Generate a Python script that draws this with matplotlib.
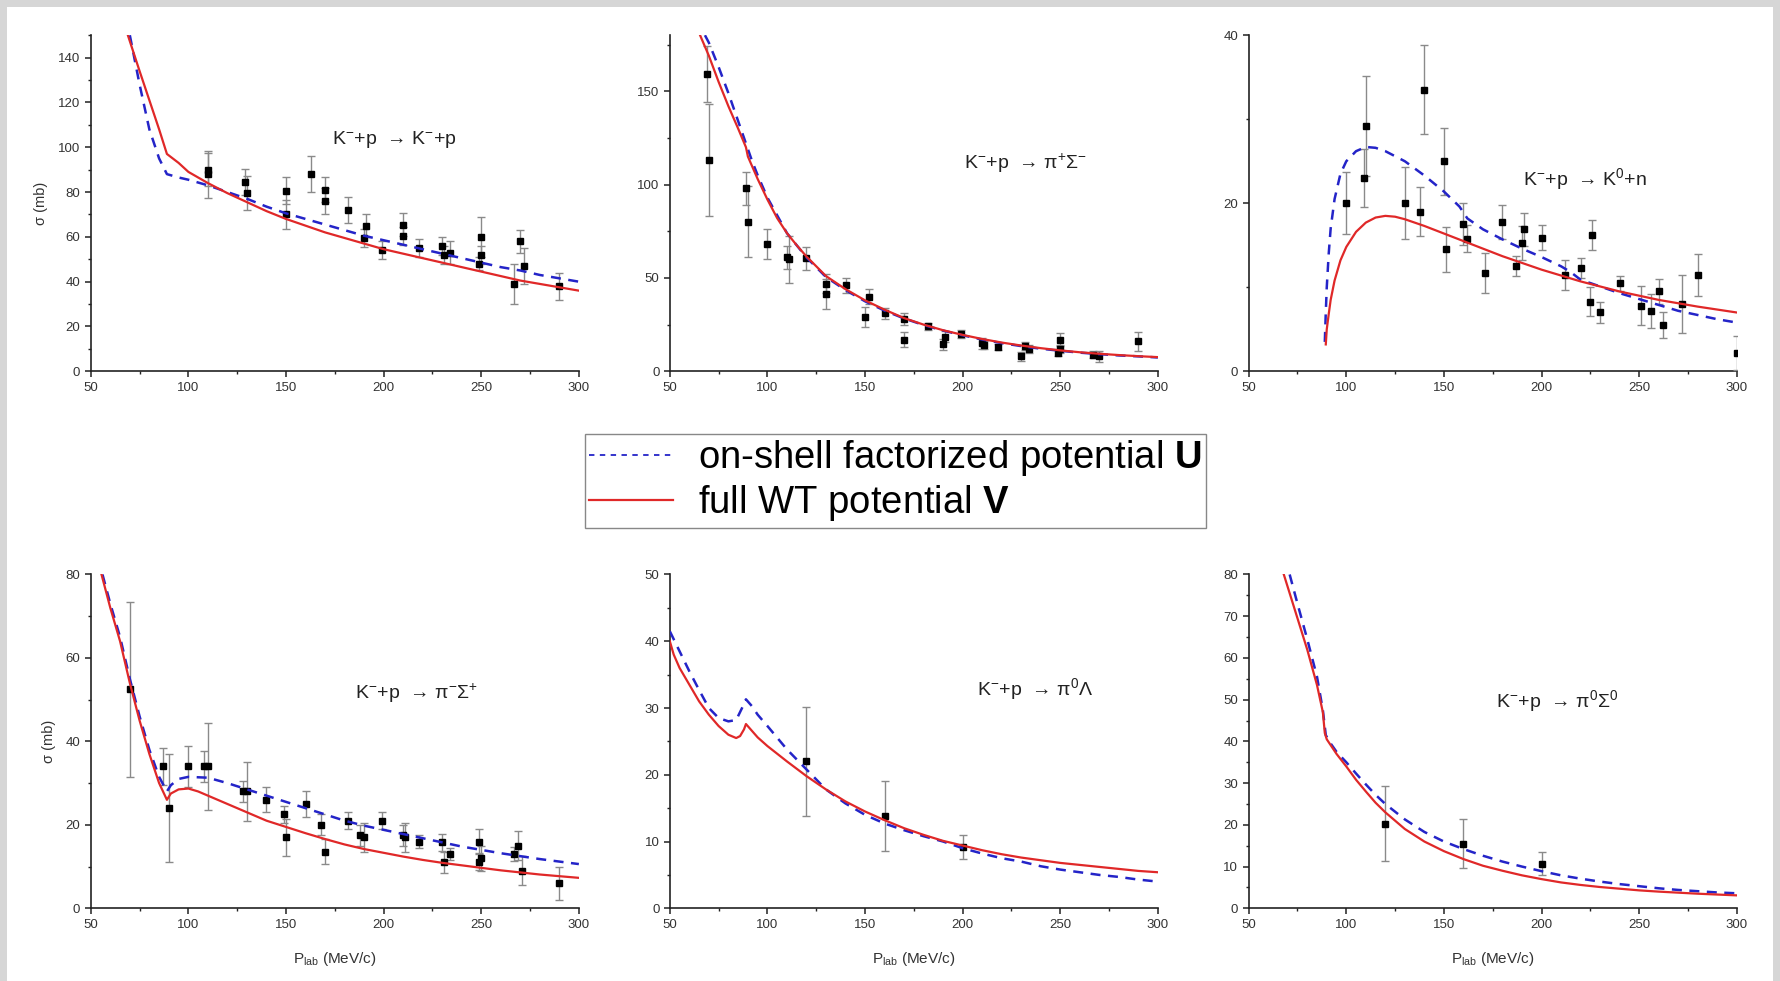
"""
K- p cross sections: on-shell factorized vs full WT potential, six channels.
"""
import matplotlib
matplotlib.use("Agg")
import matplotlib.pyplot as plt
import matplotlib.lines as mlines
from matplotlib.patches import Rectangle
from matplotlib.ticker import MultipleLocator

plt.rcParams["font.family"] = ["Liberation Sans", "DejaVu Sans"]
plt.rcParams["mathtext.fontset"] = "custom"
plt.rcParams["mathtext.rm"] = "Liberation Sans"
plt.rcParams["mathtext.it"] = "Liberation Sans:italic"
plt.rcParams["mathtext.bf"] = "Liberation Sans:bold"

BLUE = "#2424c8"
RED = "#e02828"

# -- K- p -> K- p ---------------------------------------------------------------
kp_red_x = [69, 75, 80, 85, 89, 95, 100, 110, 120, 130, 140, 150, 160, 170, 180, 190,
            200, 210, 220, 230, 240, 250, 260, 270, 280, 290, 300]
kp_red_y = [150, 134, 121, 108, 97, 93, 89, 84, 79.5, 75.5, 71.5, 68, 65, 62, 59.5, 57,
            54.5, 52.5, 50.5, 48.5, 46.5, 44.5, 42.5, 40.5, 39, 37.5, 36]
kp_blue_x = [70, 75, 80, 85, 89, 95, 100, 110, 120, 130, 140, 150, 160, 170, 180, 190,
             200, 210, 220, 230, 240, 250, 260, 270, 280, 290, 300]
kp_blue_y = [150, 128, 108, 95, 88, 86.5, 85.5, 83, 80, 77, 73.5, 70.5, 68, 65.5, 63, 60.5,
             58.5, 56.5, 54.5, 52.5, 50.5, 48.5, 46.5, 45, 43, 41.5, 40]
kp_dat_x = [110, 110, 129, 130, 150, 150, 163, 170, 170, 182, 190, 191, 199, 210, 210, 218,
            230, 231, 234, 249, 250, 250, 267, 270, 272, 290]
kp_dat_y = [90, 88, 84.5, 79.5, 80.5, 70, 88, 81, 76, 72, 59.5, 65, 54, 65.5, 60.5, 55,
            56, 52, 53, 48, 52, 60, 39, 58, 47, 38]
kp_dat_e = [7.5, 10.5, 6, 7.5, 6, 6.5, 8, 5.5, 6, 6, 4, 5, 4, 5, 4, 4,
            4, 4, 5, 3, 4, 9, 9, 5, 8, 6]

# -- K- p -> pi+ Sigma- -----------------------------------------------------------
ps_red_x = [65.5, 70, 75, 80, 85, 89, 90, 95, 100, 105, 110, 115, 120, 130, 140, 150, 160,
            170, 180, 190, 200, 210, 220, 230, 240, 250, 260, 270, 280, 290, 300]
ps_red_y = [180, 169, 155, 142, 130, 120, 115, 103, 92, 82, 74, 67.5, 61.5, 51, 44, 38, 33,
            28.5, 25, 22, 19.5, 17.3, 15.4, 13.8, 12.4, 11.2, 10.2, 9.4, 8.7, 8.1, 7.6]
ps_blue_x = [68, 70, 75, 80, 85, 89, 92, 95, 100, 110, 120, 130, 140, 150, 160, 170, 180,
             190, 200, 210, 220, 230, 240, 250, 260, 270, 280, 290, 300]
ps_blue_y = [180, 176, 163, 149, 134, 122, 113, 105, 93, 74, 61, 50.5, 43.5, 37.5, 32.5,
             28.3, 24.8, 21.8, 19.3, 17, 15.1, 13.5, 12.1, 11, 10, 9.2, 8.5, 8, 7.4]
ps_dat_x = [69, 70, 89, 90, 100, 110, 111, 120, 130, 130, 140, 150, 152, 160, 170, 170, 182,
            190, 191, 199, 210, 211, 218, 230, 232, 234, 249, 250, 250, 267, 270, 290]
ps_dat_y = [159, 113, 98, 80, 68, 61, 60, 60.5, 47, 41.5, 46, 29, 40, 31, 28, 17, 24,
            14.5, 18.5, 20, 15, 14, 13, 8, 13.5, 12, 10, 17, 12, 9, 8, 16]
ps_dat_e = [15, 30, 9, 19, 8, 6, 12.5, 6, 5, 8, 4, 5.5, 4, 3, 3, 4, 2,
            3, 3, 2, 3, 2, 1.5, 2.5, 2, 2, 2, 3.5, 2, 2, 3, 5]

# -- K- p -> K0 n -----------------------------------------------------------------
kn_red_x = [89.5, 90, 91, 92, 94, 97, 100, 105, 110, 115, 120, 125, 130, 140, 150, 160,
            170, 180, 190, 200, 210, 220, 230, 240, 250, 260, 270, 280, 290, 300]
kn_red_y = [3.2, 5, 6.8, 8.5, 10.8, 13.2, 14.8, 16.6, 17.7, 18.3, 18.5, 18.4, 18.1, 17.3,
            16.4, 15.5, 14.6, 13.7, 12.9, 12.1, 11.4, 10.7, 10.1, 9.5, 9.0, 8.5, 8.1, 7.7,
            7.35, 7.0]
kn_blue_x = [89, 89.5, 90, 91, 92, 94, 97, 100, 105, 110, 115, 120, 130, 140, 150, 158, 162,
             170, 180, 190, 200, 210, 215, 220, 230, 240, 250, 260, 270, 280, 290, 300]
kn_blue_y = [3.5, 7, 10, 14, 17, 20.5, 23.5, 25, 26.2, 26.7, 26.6, 26.2, 25, 23.3, 21.4,
             19.6, 18.2, 16.9, 15.7, 14.6, 13.6, 12.5, 11.8, 10.9, 10.1, 9.3, 8.6, 7.9, 7.2,
             6.7, 6.2, 5.8]
kn_dat_x = [100, 109, 110, 130, 138, 140, 150, 151, 160, 162, 171, 180, 187, 190, 191, 200,
            212, 220, 225, 226, 230, 240, 251, 256, 260, 262, 272, 280, 300]
kn_dat_y = [20, 23, 29.2, 20, 19, 33.5, 25, 14.5, 17.5, 15.8, 11.7, 17.8, 12.5, 15.3, 16.9,
            15.9, 11.5, 12.3, 8.3, 16.2, 7, 10.5, 7.8, 7.2, 9.5, 5.5, 8, 11.5, 2.2]
kn_dat_e = [3.7, 3.5, 6, 4.3, 2.9, 5.3, 4, 2.7, 2.5, 1.6, 2.4, 2, 1.2, 2, 2, 1.5,
            1.8, 1.2, 1.7, 1.8, 1.3, 0.9, 2.3, 2, 1.5, 1.5, 3.5, 2.5, 2]

# -- K- p -> pi- Sigma+ -----------------------------------------------------------
ms_red_x = [55.5, 60, 65, 70, 75, 80, 85, 89, 91, 95, 100, 105, 110, 120, 130, 140, 150,
            160, 170, 180, 190, 200, 210, 220, 230, 240, 250, 260, 270, 280, 290, 300]
ms_red_y = [80, 72, 64, 54, 45, 37, 30, 26, 27.5, 28.5, 28.7, 28, 27, 25, 23, 21, 19.5,
            18, 16.6, 15.3, 14.2, 13.3, 12.4, 11.6, 10.9, 10.3, 9.7, 9.1, 8.6, 8.1, 7.7, 7.3]
ms_blue_x = [56, 60, 65, 70, 75, 80, 85, 89, 91, 95, 100, 110, 120, 130, 140, 150, 160, 170,
             180, 190, 200, 210, 220, 230, 240, 250, 260, 270, 280, 290, 300]
ms_blue_y = [80, 73, 65, 55, 46, 38, 31.5, 28, 29.5, 31, 31.5, 31.3, 30, 28.5, 27, 25.5, 24,
             22.5, 21, 19.8, 18.8, 17.8, 16.8, 15.8, 14.8, 14, 13.2, 12.5, 11.8, 11.2, 10.6]
ms_dat_x = [70, 87, 90, 100, 108, 110, 128, 130, 140, 149, 150, 160, 168, 170, 182, 188,
            190, 199, 210, 211, 218, 230, 231, 234, 249, 249, 250, 267, 269, 271, 290]
ms_dat_y = [52.5, 34, 24, 34, 34, 34, 28, 28, 26, 22.5, 17, 25, 20, 13.5, 21, 17.5,
            17, 21, 17.5, 17, 16, 15.8, 11, 13, 16, 11.2, 12, 13, 15, 9, 6]
ms_dat_e = [21, 4.5, 13, 5, 3.8, 10.5, 2.5, 7, 3, 2, 4.5, 3, 2.5, 3, 2, 2.5,
            3.5, 2, 2.5, 3.5, 1.5, 2, 2.5, 1.5, 3, 2, 3, 1.7, 3.5, 3.5, 4]

# -- K- p -> pi0 Lambda -----------------------------------------------------------
pl_red_x = [50, 52, 55, 60, 65, 70, 75, 80, 84, 86, 88, 89, 92, 95, 100, 110, 120, 130,
            140, 150, 160, 170, 180, 190, 200, 210, 220, 230, 240, 250, 260, 270, 280, 290,
            300]
pl_red_y = [40, 38, 36, 33.5, 31, 29, 27.3, 26, 25.5, 25.8, 26.8, 27.6, 26.6, 25.6, 24.3,
            22, 19.8, 17.8, 16, 14.5, 13.2, 12, 11, 10.1, 9.4, 8.7, 8.1, 7.6, 7.2, 6.8, 6.5,
            6.2, 5.9, 5.6, 5.4]
pl_blue_x = [50, 55, 60, 65, 70, 75, 80, 84, 87, 89, 92, 95, 100, 110, 120, 130, 140, 150,
             160, 170, 180, 190, 200, 210, 220, 230, 240, 250, 260, 270, 280, 290, 300]
pl_blue_y = [41.5, 38.5, 35.5, 32.7, 30, 28.5, 28, 28.2, 30, 31.3, 30.3, 29, 27.3, 23.8,
             20.8, 17.8, 15.7, 14, 12.7, 11.7, 10.8, 10, 9, 8.2, 7.5, 7, 6.3, 5.8, 5.4, 5,
             4.7, 4.3, 4]
pl_dat_x = [120, 160, 200]
pl_dat_y = [22, 13.8, 9.2]
pl_dat_e = [8.2, 5.2, 1.8]

# -- K- p -> pi0 Sigma0 -----------------------------------------------------------
pz_red_x = [68, 70, 75, 80, 85, 88, 89, 90, 95, 100, 105, 110, 115, 120, 130, 140, 150, 160,
            170, 180, 190, 200, 210, 220, 230, 240, 250, 260, 270, 280, 290, 300]
pz_red_y = [80, 77, 69.5, 62, 53.5, 47, 42, 40.5, 37, 34, 30.8, 28, 25.3, 23, 19, 16, 13.7,
            11.8, 10.2, 9, 7.9, 7, 6.2, 5.6, 5.1, 4.7, 4.3, 4, 3.75, 3.5, 3.3, 3.1]
pz_blue_x = [71, 75, 80, 85, 88, 89.5, 92, 95, 100, 105, 110, 115, 120, 130, 140, 150, 160,
             170, 180, 190, 200, 210, 220, 230, 240, 250, 260, 270, 280, 290, 300]
pz_blue_y = [80, 73, 64.5, 55.5, 47.5, 41.5, 39.5, 37.5, 35, 32.3, 29.7, 27.2, 25, 21.3,
             18.3, 16, 14.2, 12.6, 11.2, 10, 8.9, 7.9, 7.1, 6.4, 5.8, 5.3, 4.8, 4.4, 4.1,
             3.8, 3.6]
pz_dat_x = [120, 160, 200]
pz_dat_y = [20.3, 15.5, 10.7]
pz_dat_e = [9, 5.8, 2.7]

# -- figure ----------------------------------------------------------------------
fig = plt.figure(figsize=(17.8, 9.81), dpi=100)
fig.patch.set_facecolor("#d6d6d6")
fig.patches.append(Rectangle((0.004, 0.0), 0.992, 0.993, transform=fig.transFigure,
                             facecolor="white", edgecolor="none", zorder=-10))

left = [0.0510, 0.3763, 0.7015]
width = 0.2742
row_bottom = [0.6215, 0.0741]
row_height = [0.3426, 0.3403]

panels = [
    dict(row=0, col=0, rx=kp_red_x, ry=kp_red_y, bx=kp_blue_x, by=kp_blue_y,
         dx=kp_dat_x, dy=kp_dat_y, de=kp_dat_e, ymax=150, major=20, minor=10,
         label="K$^{-}$+p  → K$^{-}$+p", lpos=(0.621, 0.689)),
    dict(row=0, col=1, rx=ps_red_x, ry=ps_red_y, bx=ps_blue_x, by=ps_blue_y,
         dx=ps_dat_x, dy=ps_dat_y, de=ps_dat_e, ymax=180, major=50, minor=25,
         label="K$^{-}$+p  → π$^{+}$Σ$^{-}$", lpos=(0.728, 0.618)),
    dict(row=0, col=2, rx=kn_red_x, ry=kn_red_y, bx=kn_blue_x, by=kn_blue_y,
         dx=kn_dat_x, dy=kn_dat_y, de=kn_dat_e, ymax=40, major=20, minor=10,
         label="K$^{-}$+p  → K$^{0}$+n", lpos=(0.688, 0.571)),
    dict(row=1, col=0, rx=ms_red_x, ry=ms_red_y, bx=ms_blue_x, by=ms_blue_y,
         dx=ms_dat_x, dy=ms_dat_y, de=ms_dat_e, ymax=80, major=20, minor=10,
         label="K$^{-}$+p  → π$^{-}$Σ$^{+}$", lpos=(0.667, 0.643)),
    dict(row=1, col=1, rx=pl_red_x, ry=pl_red_y, bx=pl_blue_x, by=pl_blue_y,
         dx=pl_dat_x, dy=pl_dat_y, de=pl_dat_e, ymax=50, major=10, minor=5,
         label="K$^{-}$+p  → π$^{0}$Λ", lpos=(0.749, 0.656)),
    dict(row=1, col=2, rx=pz_red_x, ry=pz_red_y, bx=pz_blue_x, by=pz_blue_y,
         dx=pz_dat_x, dy=pz_dat_y, de=pz_dat_e, ymax=80, major=10, minor=5,
         label="K$^{-}$+p  → π$^{0}$Σ$^{0}$", lpos=(0.633, 0.622)),
]

for p in panels:
    ax = fig.add_axes([left[p["col"]], row_bottom[p["row"]], width, row_height[p["row"]]])
    ax.set_facecolor("none")
    ax.errorbar(p["dx"], p["dy"], yerr=p["de"], fmt="s", color="black", ms=5,
                ecolor="#8a8a8a", elinewidth=1.0, capsize=3, capthick=1.0, zorder=3)
    ax.plot(p["bx"], p["by"], color=BLUE, lw=1.8, ls=(0, (4, 3)), zorder=4)
    ax.plot(p["rx"], p["ry"], color=RED, lw=1.6, zorder=5)

    ax.set_xlim(50, 300)
    ax.set_ylim(0, p["ymax"])
    ax.xaxis.set_major_locator(MultipleLocator(50))
    ax.xaxis.set_minor_locator(MultipleLocator(25))
    ax.yaxis.set_major_locator(MultipleLocator(p["major"]))
    ax.yaxis.set_minor_locator(MultipleLocator(p["minor"]))
    for sp in ("top", "right"):
        ax.spines[sp].set_visible(False)
    for sp in ("left", "bottom"):
        ax.spines[sp].set_linewidth(1.2)
        ax.spines[sp].set_color("#222222")
    ax.tick_params(which="major", direction="out", length=4, width=1.1,
                   labelsize=9.5, labelcolor="#333333", color="#222222")
    ax.tick_params(which="minor", direction="out", length=2.5, width=1.0, color="#222222")

    ax.text(p["lpos"][0], p["lpos"][1], p["label"], transform=ax.transAxes,
            ha="center", va="center", fontsize=14, color="#222222")

    if p["col"] == 0:
        ax.set_ylabel("σ (mb)", fontsize=10.5, color="#333333", labelpad=7)
    if p["row"] == 1:
        ax.set_xlabel("P$_{\\rm lab}$ (MeV/c)", fontsize=11, color="#333333", labelpad=14)

# legend
handles = [
    mlines.Line2D([], [], color=BLUE, lw=1.3, ls=(0, (3, 3)),
                  label="on-shell factorized potential $\\mathbf{U}$"),
    mlines.Line2D([], [], color=RED, lw=1.6,
                  label="full WT potential $\\mathbf{V}$"),
]
fig.legend(handles=handles, loc="center", bbox_to_anchor=(0.503, 0.510),
           fontsize=27.5, frameon=True, fancybox=False, edgecolor="#888888",
           framealpha=1, handlelength=2.2, handletextpad=0.65, borderpad=0.12,
           labelspacing=0.12, borderaxespad=0)

plt.savefig("out.png", dpi=100, facecolor=fig.get_facecolor())
plt.close()
